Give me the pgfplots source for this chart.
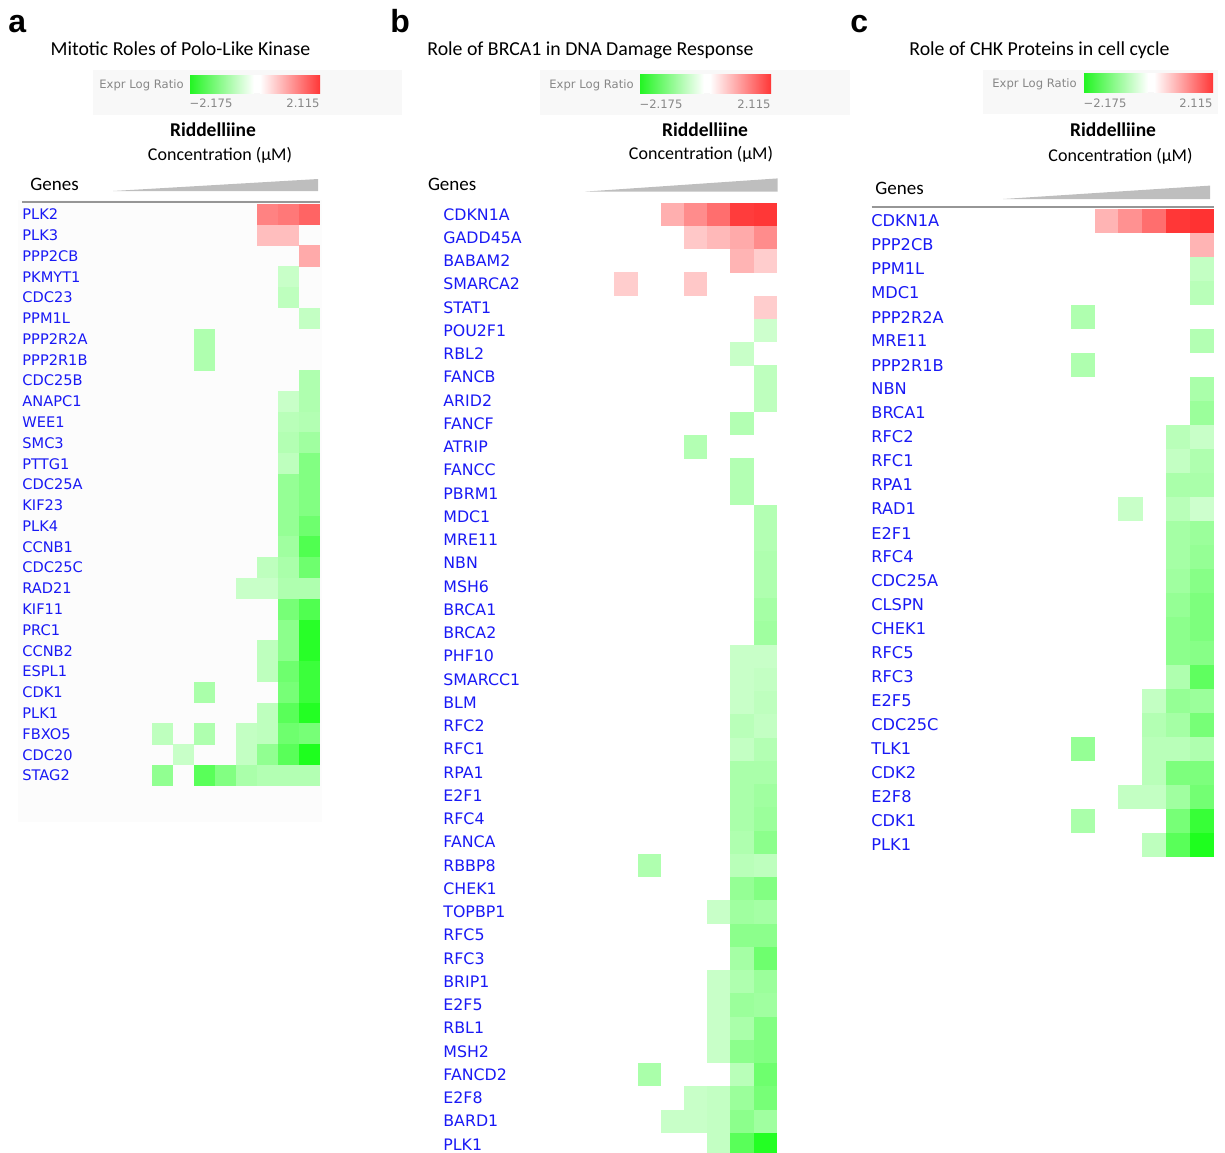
\documentclass[border=0pt]{standalone}
\usepackage{pgfplots}
\pgfplotsset{compat=1.18}
\usepackage{fontspec}
\setmainfont{Carlito}
\newfontfamily\dejavu{DejaVu Sans}
\newfontfamily\arialf{Liberation Sans}
\definecolor{gblue}{RGB}{25,25,245}
\definecolor{lgray}{RGB}{135,135,135}
\definecolor{boxgray}{RGB}{248,248,248}
\definecolor{tri}{RGB}{190,190,190}
\definecolor{sepc}{RGB}{150,150,150}
\definecolor{cbg}{RGB}{35,245,35}
\definecolor{cbr}{RGB}{255,55,55}
\pgfplotsset{colormap={gwr}{rgb255(0cm)=(30,255,30) rgb255(2.175cm)=(255,255,255) rgb255(4.29cm)=(255,50,50)}}
\pgfplotsset{
  hm/.style={scale only axis, anchor=north west, y dir=reverse,
    axis line style={draw=none}, major tick length=0pt, tick style={draw=none},
    xtick=\empty, clip=false, colormap name=gwr,
    point meta min=-2.175, point meta max=2.115,
    yticklabel style={anchor=west, inner sep=0pt, text=gblue}},
  cells/.style={scatter, only marks, mark=square*, mark size=#1,
    point meta=explicit,
    scatter/use mapped color={draw=mapped color, fill=mapped color}}
}
\newcommand\titlefont{\fontsize{9.9}{11}\selectfont}
\newcommand\ridfont{\bfseries\fontsize{9.75}{11}\selectfont}
\newcommand\concfont{\fontsize{9.0}{11}\selectfont}
\newcommand\genesfont{\fontsize{9.5}{11}\selectfont}
\newcommand\smallg{\dejavu\fontsize{5.8}{7}\selectfont}
\begin{document}
\begin{tikzpicture}
\path[use as bounding box] (0,0) rectangle (612.5pt,-576pt);
% ---------- panel letters and titles
\node[anchor=base west, inner sep=0pt, font=\arialf\bfseries\fontsize{16}{16}\selectfont] at (4pt,-16pt) {a};
\node[anchor=base west, inner sep=0pt, font=\arialf\bfseries\fontsize{16}{16}\selectfont] at (195pt,-16pt) {b};
\node[anchor=base west, inner sep=0pt, font=\arialf\bfseries\fontsize{16}{16}\selectfont] at (425pt,-16pt) {c};
\node[anchor=base, inner sep=0pt, font=\titlefont] at (90.25pt,-27.5pt) {Mitotic Roles of Polo-Like Kinase};
\node[anchor=base west, inner sep=0pt, font=\titlefont] at (213.5pt,-27.5pt) {Role of BRCA1 in DNA Damage Response};
\node[anchor=base west, inner sep=0pt, font=\titlefont] at (454.5pt,-27.5pt) {Role of CHK Proteins in cell cycle};
% ---------- legend boxes
\fill[boxgray] (46.5pt,-35pt) rectangle (201pt,-57.5pt);
\fill[boxgray] (270pt,-35pt) rectangle (425pt,-57.5pt);
\fill[boxgray] (491.5pt,-35pt) rectangle (609pt,-57pt);
% panel a legend
\node[anchor=base east, inner sep=0pt, text=lgray, font=\smallg] at (92pt,-44pt) {Expr Log Ratio};
\shade[left color=cbg, right color=white] (95pt,-37.5pt) rectangle (127pt,-46.5pt);
\fill[white] (127pt,-37.5pt) rectangle (130pt,-46.5pt);
\shade[left color=white, right color=cbr] (130pt,-37.5pt) rectangle (160pt,-46.5pt);
\node[anchor=base, inner sep=0pt, text=lgray, font=\smallg] at (105.5pt,-53.5pt) {−2.175};
\node[anchor=base east, inner sep=0pt, text=lgray, font=\smallg] at (160pt,-53.5pt) {2.115};
% panel b legend
\node[anchor=base east, inner sep=0pt, text=lgray, font=\smallg] at (317pt,-44pt) {Expr Log Ratio};
\shade[left color=cbg, right color=white] (320pt,-37pt) rectangle (352pt,-46.5pt);
\fill[white] (352pt,-37pt) rectangle (355pt,-46.5pt);
\shade[left color=white, right color=cbr] (355pt,-37pt) rectangle (385.5pt,-46.5pt);
\node[anchor=base, inner sep=0pt, text=lgray, font=\smallg] at (330.5pt,-54pt) {−2.175};
\node[anchor=base east, inner sep=0pt, text=lgray, font=\smallg] at (385.5pt,-54pt) {2.115};
% panel c legend
\node[anchor=base east, inner sep=0pt, text=lgray, font=\smallg] at (538.5pt,-43.5pt) {Expr Log Ratio};
\shade[left color=cbg, right color=white] (542pt,-36.5pt) rectangle (574pt,-46pt);
\fill[white] (574pt,-36.5pt) rectangle (577pt,-46pt);
\shade[left color=white, right color=cbr] (577pt,-36.5pt) rectangle (606.5pt,-46pt);
\node[anchor=base, inner sep=0pt, text=lgray, font=\smallg] at (552.5pt,-53.5pt) {−2.175};
\node[anchor=base east, inner sep=0pt, text=lgray, font=\smallg] at (606.5pt,-53.5pt) {2.115};
% ---------- Riddelliine / concentration / genes
\node[anchor=base, inner sep=0pt, font=\ridfont] at (106.5pt,-68.4pt) {Riddelliine};
\node[anchor=base, inner sep=0pt, font=\concfont] at (110pt,-80pt) {Concentration (µM)};
\node[anchor=base west, inner sep=0pt, font=\genesfont] at (15pt,-95pt) {Genes};
\node[anchor=base, inner sep=0pt, font=\ridfont] at (352.5pt,-68.4pt) {Riddelliine};
\node[anchor=base, inner sep=0pt, font=\concfont] at (350.5pt,-79.6pt) {Concentration (µM)};
\node[anchor=base west, inner sep=0pt, font=\genesfont] at (213.8pt,-95pt) {Genes};
\node[anchor=base, inner sep=0pt, font=\ridfont] at (556.5pt,-68.4pt) {Riddelliine};
\node[anchor=base, inner sep=0pt, font=\concfont] at (560.25pt,-80.8pt) {Concentration (µM)};
\node[anchor=base west, inner sep=0pt, font=\genesfont] at (437.5pt,-97.2pt) {Genes};
% triangles
\fill[tri] (56.5pt,-95.5pt) -- (159pt,-89.5pt) -- (159pt,-95.5pt) -- cycle;
\fill[tri] (292.5pt,-95.8pt) -- (388.8pt,-89.2pt) -- (388.8pt,-95.8pt) -- cycle;
\fill[tri] (501.5pt,-99.5pt) -- (605pt,-92.8pt) -- (605pt,-99.5pt) -- cycle;
% ---------- panel a
\begin{axis}[hm, at={(9pt,-100pt)}, width=152pt, height=311pt,
  xmin=-5.88, xmax=8.595, ymin=0.308, ymax=30.24,
  axis background/.style={fill=black!1.3},
  ytick={1,...,28},
  yticklabels={PLK2,PLK3,PPP2CB,PKMYT1,CDC23,PPM1L,PPP2R2A,PPP2R1B,CDC25B,ANAPC1,WEE1,SMC3,PTTG1,CDC25A,KIF23,PLK4,CCNB1,CDC25C,RAD21,KIF11,PRC1,CCNB2,ESPL1,CDK1,PLK1,FBXO5,CDC20,STAG2},
  yticklabel style={font=\dejavu\fontsize{7.3}{8}\selectfont, xshift=2pt}]
\addplot[cells=5.05pt] coordinates {
(6,1) [1.29] (7,1) [1.39] (8,1) [1.60]
(6,2) [0.67] (7,2) [0.67]
(8,3) [0.88]
(7,4) [-0.53]
(7,5) [-0.63]
(8,6) [-0.58]
(3,7) [-0.77]
(3,8) [-0.77]
(8,9) [-0.77]
(7,10) [-0.53] (8,10) [-0.77]
(7,11) [-0.68] (8,11) [-0.73]
(7,12) [-0.73] (8,12) [-0.92]
(7,13) [-0.63] (8,13) [-1.21]
(7,14) [-1.02] (8,14) [-1.21]
(7,15) [-1.02] (8,15) [-1.21]
(7,16) [-1.02] (8,16) [-1.40]
(7,17) [-0.92] (8,17) [-1.69]
(6,18) [-0.63] (7,18) [-0.82] (8,18) [-1.40]
(5,19) [-0.53] (6,19) [-0.53] (7,19) [-0.77] (8,19) [-0.77]
(7,20) [-1.31] (8,20) [-1.69]
(7,21) [-1.11] (8,21) [-2.08]
(6,22) [-0.63] (7,22) [-1.11] (8,22) [-2.08]
(6,23) [-0.63] (7,23) [-1.40] (8,23) [-1.89]
(3,24) [-0.82] (7,24) [-1.31] (8,24) [-1.89]
(6,25) [-0.63] (7,25) [-1.60] (8,25) [-2.13]
(1,26) [-0.63] (3,26) [-0.77] (5,26) [-0.58] (6,26) [-0.63] (7,26) [-1.40] (8,26) [-1.31]
(2,27) [-0.53] (5,27) [-0.58] (6,27) [-1.06] (7,27) [-1.60] (8,27) [-2.175]
(1,28) [-1.06] (3,28) [-1.60] (4,28) [-1.21] (5,28) [-0.82] (6,28) [-0.73] (7,28) [-0.73] (8,28) [-0.73]
};
\end{axis}
% ---------- panel b
\begin{axis}[hm, at={(220.5pt,-101pt)}, width=168pt, height=475pt,
  xmin=-5.97, xmax=8.513, ymin=0.47, ymax=41.33,
  ytick={1,...,41},
  yticklabels={CDKN1A,GADD45A,BABAM2,SMARCA2,STAT1,POU2F1,RBL2,FANCB,ARID2,FANCF,ATRIP,FANCC,PBRM1,MDC1,MRE11,NBN,MSH6,BRCA1,BRCA2,PHF10,SMARCC1,BLM,RFC2,RFC1,RPA1,E2F1,RFC4,FANCA,RBBP8,CHEK1,TOPBP1,RFC5,RFC3,BRIP1,E2F5,RBL1,MSH2,FANCD2,E2F8,BARD1,PLK1},
  yticklabel style={font=\dejavu\fontsize{7.9}{9}\selectfont, xshift=1pt}]
\addplot[cells=5.6pt] coordinates {
(4,1) [0.83] (5,1) [1.19] (6,1) [1.50] (7,1) [2.01] (8,1) [2.06]
(5,2) [0.57] (6,2) [0.72] (7,2) [0.88] (8,2) [1.19]
(7,3) [0.77] (8,3) [0.52]
(2,4) [0.52] (5,4) [0.57]
(8,5) [0.52]
(8,6) [-0.48]
(7,7) [-0.53]
(8,8) [-0.63]
(8,9) [-0.63]
(7,10) [-0.73]
(5,11) [-0.73]
(7,12) [-0.73]
(7,13) [-0.73]
(8,14) [-0.73]
(8,15) [-0.73]
(8,16) [-0.77]
(8,17) [-0.77]
(8,18) [-0.87]
(8,19) [-0.92]
(7,20) [-0.53] (8,20) [-0.53]
(7,21) [-0.53] (8,21) [-0.58]
(7,22) [-0.53] (8,22) [-0.63]
(7,23) [-0.68] (8,23) [-0.58]
(7,24) [-0.58] (8,24) [-0.73]
(7,25) [-0.82] (8,25) [-0.82]
(7,26) [-0.82] (8,26) [-0.92]
(7,27) [-0.82] (8,27) [-0.97]
(7,28) [-0.77] (8,28) [-1.11]
(3,29) [-0.77] (7,29) [-0.68] (8,29) [-0.63]
(7,30) [-1.02] (8,30) [-1.21]
(6,31) [-0.53] (7,31) [-0.92] (8,31) [-0.87]
(7,32) [-1.11] (8,32) [-1.11]
(7,33) [-0.87] (8,33) [-1.40]
(6,34) [-0.53] (7,34) [-0.77] (8,34) [-0.97]
(6,35) [-0.53] (7,35) [-0.97] (8,35) [-0.92]
(6,36) [-0.53] (7,36) [-0.82] (8,36) [-1.21]
(6,37) [-0.53] (7,37) [-1.11] (8,37) [-1.21]
(3,38) [-0.82] (7,38) [-0.68] (8,38) [-1.40]
(5,39) [-0.53] (6,39) [-0.58] (7,39) [-0.97] (8,39) [-1.31]
(4,40) [-0.53] (5,40) [-0.53] (6,40) [-0.58] (7,40) [-1.11] (8,40) [-0.92]
(6,41) [-0.58] (7,41) [-1.60] (8,41) [-2.13]
};
\end{axis}
% ---------- panel c
\begin{axis}[hm, at={(434.5pt,-104pt)}, width=173pt, height=326pt,
  xmin=-5.935, xmax=8.54, ymin=0.458, ymax=27.625,
  ytick={1,...,27},
  yticklabels={CDKN1A,PPP2CB,PPM1L,MDC1,PPP2R2A,MRE11,PPP2R1B,NBN,BRCA1,RFC2,RFC1,RPA1,RAD1,E2F1,RFC4,CDC25A,CLSPN,CHEK1,RFC5,RFC3,E2F5,CDC25C,TLK1,CDK2,E2F8,CDK1,PLK1},
  yticklabel style={font=\dejavu\fontsize{8.1}{9}\selectfont, xshift=1pt}]
\addplot[cells=5.8pt] coordinates {
(4,1) [0.77] (5,1) [1.13] (6,1) [1.50] (7,1) [2.06] (8,1) [2.115]
(8,2) [0.77]
(8,3) [-0.58]
(8,4) [-0.68]
(3,5) [-0.77]
(8,6) [-0.73]
(3,7) [-0.77]
(8,8) [-0.82]
(8,9) [-0.97]
(7,10) [-0.68] (8,10) [-0.53]
(7,11) [-0.58] (8,11) [-0.77]
(7,12) [-0.82] (8,12) [-0.82]
(5,13) [-0.53] (7,13) [-0.68] (8,13) [-0.48]
(7,14) [-0.87] (8,14) [-0.97]
(7,15) [-0.87] (8,15) [-1.02]
(7,16) [-0.92] (8,16) [-1.16]
(7,17) [-1.02] (8,17) [-1.26]
(7,18) [-1.11] (8,18) [-1.26]
(7,19) [-1.11] (8,19) [-1.16]
(7,20) [-0.77] (8,20) [-1.55]
(6,21) [-0.58] (7,21) [-1.02] (8,21) [-0.97]
(6,22) [-0.73] (7,22) [-0.87] (8,22) [-1.31]
(3,23) [-1.02] (6,23) [-0.68] (7,23) [-0.68] (8,23) [-0.77]
(6,24) [-0.68] (7,24) [-1.26] (8,24) [-1.26]
(5,25) [-0.58] (6,25) [-0.58] (7,25) [-0.92] (8,25) [-1.35]
(3,26) [-0.82] (7,26) [-1.31] (8,26) [-1.93]
(6,27) [-0.63] (7,27) [-1.60] (8,27) [-2.175]
};
\end{axis}
% separators (drawn on top of the axis backgrounds)
\draw[sepc, line width=1pt] (11pt,-100.9pt) -- (160pt,-100.9pt);
\draw[sepc, line width=1pt] (435.8pt,-103.6pt) -- (607pt,-103.6pt);
\end{tikzpicture}
\end{document}
